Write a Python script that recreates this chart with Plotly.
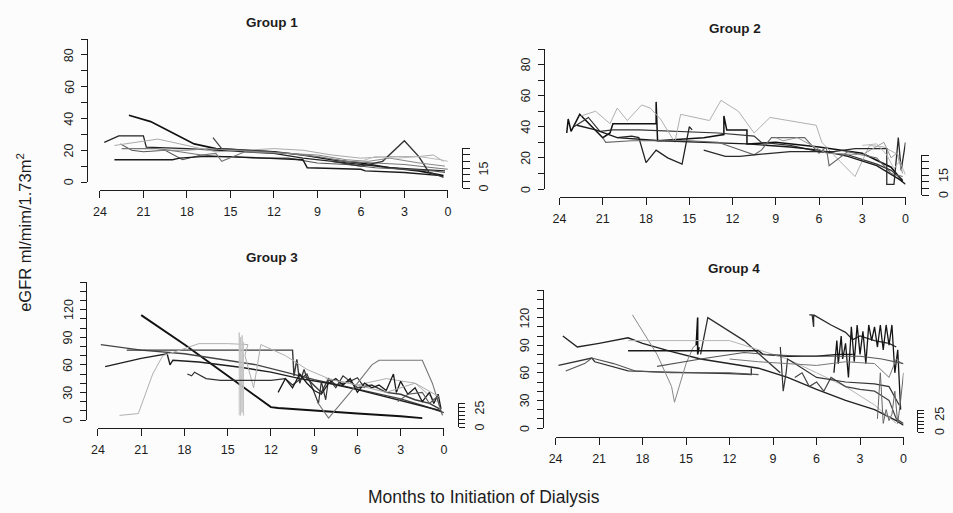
import plotly.graph_objects as go

W, H = 953, 513

# ---------------- data ----------------
MONTH_TICKS = [24, 21, 18, 15, 12, 9, 6, 3, 0]
LOW_TICKS = list(range(0, 91, 10))
LOW_LABELED = [0, 20, 40, 60, 80]
HIGH_TICKS = list(range(0, 151, 10))
HIGH_LABELED = [0, 30, 60, 90, 120]
SIDE_TICKS = [0, 5, 10, 15, 20, 25, 30]
SIDE_LABELED_A = [0, 15]
SIDE_LABELED_B = [0, 25]
GROUP_TITLES = ["Group 1", "Group 2", "Group 3", "Group 4"]
Y_TITLE = "eGFR ml/mim/1.73m<sup>2</sup>"
X_TITLE = "Months to Initiation of Dialysis"

G1_MONTHS = [
    [22, 20.5, 19, 17.5, 16, 14, 12, 10, 8, 6, 4, 2, 0.3],
    [23.7, 22.7, 21, 20.8, 18, 16, 14, 12, 10, 8, 6, 4, 2, 0.2],
    [22.6, 21.8, 21, 19.5, 18.3, 17, 15.5, 13, 11, 9, 7, 5, 3, 1, 0.2],
    [23, 19, 18.5, 17, 15, 12, 10, 9.7, 6, 5.7, 3, 0.5],
    [23, 21.5, 20, 18, 16, 14, 12, 10, 8, 6, 4, 2, 1, 0.3],
    [22.5, 20, 18.5, 17, 16, 15.6, 14, 11, 9, 7, 5, 3, 1, 0],
    [8, 6, 4.5, 3, 2, 1.3, 0.6, 0.3],
    [16.2, 15.6, 14, 12],
    [20, 18, 16.5, 15, 13, 11, 9, 7, 5.5, 4, 2, 0.2],
    [6, 5, 3.5, 2, 0.5, 0],
]
G1_EGFR = [
    [42, 38, 31, 24, 21, 20, 19, 17, 14, 12, 9, 7, 4],
    [25, 29, 29, 22, 21, 20, 19, 18, 15, 13, 11, 9, 8, 7],
    [24, 20, 19, 20, 14, 17, 16, 15, 15, 12, 11, 9, 8, 7, 6],
    [14, 14, 15, 16, 16, 15, 14, 9, 8, 7, 6, 4],
    [23, 25, 27, 23, 19, 20, 21, 20, 17, 15, 16, 16, 17, 13],
    [21, 21, 19, 17, 18, 13, 19, 18, 16, 13, 12, 11, 9, 8],
    [13, 10, 13, 26, 16, 6, 4, 3],
    [28, 21, 20, 19],
    [20, 20, 21, 20, 19, 18, 17, 14, 13, 15, 12, 10],
    [13, 16, 15, 16, 14, 13],
]

G2_MONTHS = [
    [23.5, 23.4, 23.2, 22.6, 21, 20.5, 20.3, 17.3, 17.3, 17.2, 14, 12.6, 12.6, 12.4, 11, 11, 9, 6, 3, 1, 0.2],
    [23, 22, 21.2, 20.3, 18.5, 16, 13, 10.5, 10, 8, 6, 4, 2, 1, 0.2],
    [22.5, 21.5, 20.5, 20, 19.3, 18.3, 17.7, 17, 16, 15.6, 13.6, 12.8, 11.6, 10.5, 9.4, 6.2, 5.8, 5, 3.5, 2.5, 1.5, 0.5, 0.2],
    [20, 19, 18.5, 18, 17.3, 16.5, 15.5, 15, 14.8],
    [22.8, 21.5, 20, 17, 14, 11, 8, 6, 4, 2, 0.4, 0],
    [21, 20.8, 19, 17, 15, 13, 10.5, 10, 9.3, 7, 6, 5.5, 5.3, 4, 2, 1, 0.2],
    [14, 12.5, 11.5, 10.5, 8, 6, 5, 3.5, 1.3, 1.3, 0.8, 0.5, 0.3, 0],
    [9, 8.5, 7.5, 6.5, 5.5, 3, 1.5, 1, 0.6, 0.2],
    [3, 2, 1.3, 0.8, 0.4, 0],
]
G2_EGFR = [
    [36, 45, 37, 48, 33, 36, 42, 42, 56, 31, 33, 35, 47, 38, 38, 29, 30, 27, 23, 14, 5],
    [40, 46, 37, 38, 38, 37, 36, 34, 30, 28, 24, 22, 16, 12, 6],
    [47, 50, 42, 52, 44, 54, 52, 45, 30, 48, 44, 57, 50, 36, 46, 41, 30, 22, 8, 28, 27, 22, 14],
    [33, 34, 33, 17, 25, 20, 16, 40, 38],
    [41, 38, 33, 31, 30, 29, 27, 25, 21, 15, 6, 3],
    [33, 30, 31, 31, 31, 30, 22, 25, 33, 33, 23, 27, 15, 24, 20, 10, 8],
    [25, 21, 21, 22, 24, 24, 24, 26, 26, 3, 3, 33, 12, 30],
    [33, 31, 33, 28, 23, 22, 30, 20, 23, 10],
    [28, 29, 22, 13, 18, 9],
]

G3_MONTHS = [
    [21, 18, 15, 12, 11.5, 9, 6, 3, 1.5],
    [23.8, 21, 18, 15, 13, 11, 9, 7, 5, 3, 1.5, 0],
    [22, 19, 16, 13, 10.5, 10.4, 10.2, 10, 9.7, 9.5, 9, 8.5, 8, 7.5, 7, 6.5, 6, 5, 4, 3, 2, 1, 0.3],
    [23.5, 21, 19.2, 19, 18.8, 17, 14, 12, 10, 8, 6, 4, 2, 0.2],
    [22.5, 21.2, 20.2, 19.5, 18.5, 17, 15, 13.6, 13.8, 13.2, 12.7, 11, 9.5, 8, 6, 4, 2, 0.5],
    [14.2, 14.2, 14.1, 14.1, 14.0, 14.0, 13.9, 13.9],
    [17.8, 17.5, 17.3, 16.5, 15.5, 12, 11, 10.5, 9.5, 8.7, 8.5, 8.2, 8, 7.5, 7, 6.5, 6, 5.5],
    [8.8, 8, 6.5, 5, 4.5, 1.5, 0.8, 0.3],
    [11.5, 11, 10.5, 10, 9.5, 9, 8.5, 8, 7.5, 7, 6.5, 6, 5.5, 5, 4.5, 4, 3.5, 3.3, 3, 2.5, 2, 1.5, 1, 0.7, 0.4, 0.2],
    [8.2, 6, 4, 2, 0.3],
    [3.2, 2.5, 1.5, 1, 0.5, 0.3, 0.1],
]
G3_EGFR = [
    [114, 82, 48, 14, 13, 10, 7, 4, 2],
    [82, 76, 72, 65, 60, 52, 44, 37, 30, 23, 16, 8],
    [76, 76, 76, 76, 76, 48, 66, 40, 55, 45, 38, 30, 45, 38, 40, 42, 35, 38, 30, 28, 22, 18, 12],
    [58, 67, 72, 60, 65, 63, 57, 52, 45, 40, 33, 25, 17, 10],
    [5, 7, 50, 70, 75, 83, 83, 82, 70, 35, 82, 70, 55, 45, 38, 45, 40, 20],
    [5, 95, 5, 90, 8, 92, 5, 85],
    [50, 48, 52, 45, 43, 43, 45, 38, 50, 18, 42, 22, 45, 35, 48, 42, 46, 35],
    [20, 2, 30, 60, 65, 65, 40, 15],
    [30, 45, 35, 50, 40, 32, 28, 40, 45, 38, 45, 30, 40, 35, 38, 32, 50, 30, 42, 28, 35, 20, 30, 18, 28, 12],
    [45, 38, 30, 40, 25],
    [20, 28, 30, 18, 25, 15, 5],
]

G4_MONTHS = [
    [23.5, 22.5, 21, 19, 18, 16, 14, 12, 10, 8, 6, 4, 2, 0.5, 0],
    [23.8, 21.5, 21.3, 19, 17, 14, 12, 10.5, 10.5],
    [23.3, 22, 21.5, 20, 18.5, 16, 14, 12, 10],
    [18.7, 17, 16, 15.8, 15, 14.5, 14.3],
    [14.3, 14.2, 14.2, 14.1],
    [14, 13.5, 11, 8.5],
    [19, 16, 13, 10, 9.7, 8, 6, 4.5, 3.5],
    [19, 16, 14, 12, 10, 8, 6, 4, 2, 0.5],
    [6.5, 6.3, 6.2, 6.2, 5, 4, 3.5, 3, 2, 1, 0.5],
    [4.8, 4.6, 4.5, 4.3, 4.2, 4, 3.8, 3.6, 3.4, 3.2, 3.0, 2.8, 2.6, 2.4, 2.2, 2.0, 1.8, 1.6, 1.4, 1.2, 1.0, 0.8, 0.6, 0.4, 0.2],
    [7.5, 7, 6.5, 6, 5.5, 5, 4.5, 4, 3, 2, 1.5, 1, 0.5, 0],
    [8.5, 8.3, 8.1, 8.0, 7.5, 6, 4, 2, 1, 0.3],
    [1.8, 1.6, 1.4, 1.2, 1.0, 0.8, 0.6, 0.4, 0.2, 0],
    [12, 10, 8, 6, 4, 2, 1, 0.5, 0.1],
    [17, 14, 11, 9.5, 7, 5, 3, 1.5, 0],
]
G4_EGFR = [
    [100, 88, 92, 98, 92, 83, 75, 70, 65, 55, 42, 30, 20, 8, 3],
    [68, 76, 72, 62, 61, 60, 59, 58, 65],
    [62, 70, 76, 70, 62, 60, 60, 60, 58],
    [123, 80, 45, 28, 70, 88, 90],
    [90, 120, 80, 88],
    [80, 120, 95, 60],
    [84, 84, 84, 84, 80, 78, 78, 80, 80],
    [95, 95, 95, 95, 85, 75, 60, 45, 25, 5],
    [123, 123, 110, 123, 112, 104, 96, 100, 95, 92, 88],
    [60, 95, 70, 100, 75, 92, 55, 110, 72, 112, 80, 105, 70, 112, 95, 110, 88, 112, 85, 112, 90, 112, 60, 85, 20],
    [55, 60, 45, 50, 40, 55, 50, 45, 42, 40, 35, 30, 10, 5],
    [88, 40, 60, 75, 70, 55, 50, 48, 45, 25],
    [10, 60, 5, 20, 8, 15, 40, 5, 30, 60],
    [75, 72, 70, 68, 72, 70, 55, 75, 70],
    [67, 75, 82, 80, 78, 78, 78, 75, 70],
]

GROUP_MONTHS = [G1_MONTHS, G2_MONTHS, G3_MONTHS, G4_MONTHS]
GROUP_EGFR = [G1_EGFR, G2_EGFR, G3_EGFR, G4_EGFR]

# ---------------- styling / layout ----------------
GROUP_SHADES = [
    ["#111111", "#222222", "#555555", "#1a1a1a", "#aaaaaa", "#777777", "#333333", "#444444", "#888888", "#bbbbbb"],
    ["#111111", "#333333", "#b0b0b0", "#222222", "#1a1a1a", "#666666", "#2a2a2a", "#999999", "#bbbbbb"],
    ["#111111", "#444444", "#3a3a3a", "#1e1e1e", "#b0b0b0", "#c4c4c4", "#333333", "#777777", "#1a1a1a", "#aaaaaa", "#555555"],
    ["#222222", "#333333", "#555555", "#888888", "#111111", "#333333", "#1a1a1a", "#b5b5b5", "#2a2a2a",
     "#151515", "#444444", "#333333", "#666666", "#777777", "#555555"],
]
GROUP_WIDTHS = [
    [1.6, 1.3, 1.1, 1.4, 1.0, 1.1, 1.4, 1.2, 1.0, 1.0],
    [1.5, 1.2, 1.0, 1.3, 1.4, 1.1, 1.3, 1.0, 1.0],
    [1.9, 1.3, 1.4, 1.4, 1.0, 1.0, 1.2, 1.1, 1.3, 1.0, 1.1],
    [1.4, 1.3, 1.1, 1.0, 1.6, 1.3, 1.4, 1.0, 1.3, 1.3, 1.2, 1.2, 1.0, 1.0, 1.1],
]
FONT = "Liberation Sans, Arial, sans-serif"
INK = "#1c1c1c"
TICK_SIZE = 12.5

# pixel geometry of each panel
GEO = [
    dict(yl=81, y0=182, yt=39, x24=94, x0=446, xl=190, rl=460, r0=188, rt=148, tx=268, ty=22, hi=False),
    dict(yl=543, y0=189, yt=49, x24=559, x0=909, xl=197, rl=925, r0=195, rt=155, tx=737, ty=28, hi=False),
    dict(yl=80, y0=420, yt=282, x24=92, x0=442, xl=428, rl=456, r0=427, rt=403, tx=268, ty=257, hi=True),
    dict(yl=542, y0=428, yt=290, x24=555, x0=907, xl=437, rl=921, r0=432, rt=410, tx=735, ty=268, hi=True),
]


def px(p):
    return p / W


def py(p):
    return 1 - p / H


fig = go.Figure()
layout = {}
annotations = []


def label(text, x, y, yref, size=TICK_SIZE, angle=-90):
    annotations.append(dict(text=text, x=x, y=y, xref="paper", yref=yref, showarrow=False,
                            textangle=angle, xanchor="center", yanchor="middle",
                            font=dict(family=FONT, size=size, color=INK)))


for g in range(4):
    geo = GEO[g]
    n = g + 1
    xa = "x" if n == 1 else f"x{n}"
    ya = "y" if n == 1 else f"y{n}"
    for j, (mx, ev) in enumerate(zip(GROUP_MONTHS[g], GROUP_EGFR[g])):
        fig.add_trace(go.Scatter(
            x=mx, y=ev, mode="lines",
            line=dict(color=GROUP_SHADES[g][j], width=GROUP_WIDTHS[g][j]),
            xaxis=xa, yaxis=ya, showlegend=False, hoverinfo="skip"))

    common = dict(showgrid=False, zeroline=False, showline=True, linecolor=INK, linewidth=1.2,
                  ticks="outside", tickcolor=INK, tickwidth=1.1,
                  tickfont=dict(family=FONT, size=TICK_SIZE, color=INK), fixedrange=True)
    layout["xaxis" if n == 1 else f"xaxis{n}"] = dict(
        common, domain=[px(geo["x24"]), px(geo["x0"])], range=[24, 0],
        anchor="free", position=py(geo["xl"]), tickvals=MONTH_TICKS, ticklen=7,
        ticklabelstandoff=3)
    ticks = HIGH_TICKS if geo["hi"] else LOW_TICKS
    labeled = HIGH_LABELED if geo["hi"] else LOW_LABELED
    layout["yaxis" if n == 1 else f"yaxis{n}"] = dict(
        common, domain=[py(geo["y0"]), py(geo["yt"])], range=[0, ticks[-1]],
        anchor="free", position=px(geo["yl"]), tickvals=ticks, showticklabels=False,
        ticklen=6)
    for v in labeled:
        label(str(v), px(geo["yl"] - 18), v, ya)

    # small side axis on the right
    sn = n + 4
    fig.add_trace(go.Scatter(x=[None], y=[None], mode="lines", xaxis=xa, yaxis=f"y{sn}",
                             showlegend=False, hoverinfo="skip"))
    layout[f"yaxis{sn}"] = dict(
        common, domain=[py(geo["r0"]), py(geo["rt"])], range=[0, 30], side="right",
        anchor="free", position=px(geo["rl"]), tickvals=SIDE_TICKS, showticklabels=False,
        ticklen=7 if not geo["hi"] else 6)
    for v in (SIDE_LABELED_B if geo["hi"] else SIDE_LABELED_A):
        label(str(v), px(geo["rl"] + 23), v, f"y{sn}")

    annotations.append(dict(text=f"<b>{GROUP_TITLES[g]}</b>", x=px(geo["tx"]), y=py(geo["ty"]),
                            xref="paper", yref="paper", showarrow=False, xanchor="center",
                            yanchor="middle", font=dict(family=FONT, size=13.5, color=INK)))

label(Y_TITLE, px(17), py(232), "paper", size=16.5)
label(X_TITLE, px(483), py(497), "paper", size=17.5, angle=0)

fig.update_layout(
    width=W, height=H, margin=dict(l=0, r=0, t=0, b=0),
    paper_bgcolor="#fcfcfc", plot_bgcolor="rgba(0,0,0,0)",
    annotations=annotations, showlegend=False, **layout)

fig.write_html("out.html", include_plotlyjs=True, config={"displayModeBar": False})
